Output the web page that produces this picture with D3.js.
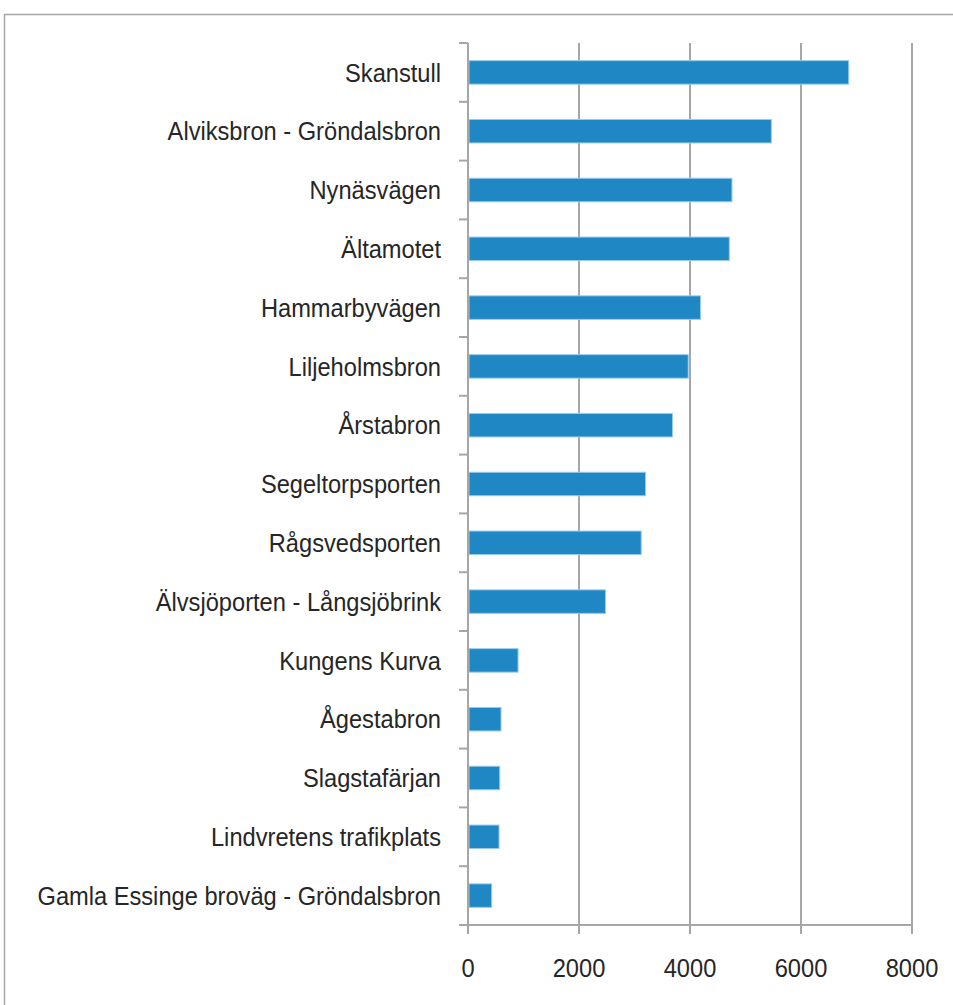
<!DOCTYPE html>
<meta charset="utf-8">
<script src="https://d3js.org/d3.v7.min.js"></script>
<style>
  body { margin: 0; background: #fff; }
  .lbl { font-family: "Liberation Sans", Arial, sans-serif; fill: #262626; }
</style>
<body>
<script>
// places and values
var places = ["Skanstull", "Alviksbron - Gröndalsbron", "Nynäsvägen", "Ältamotet",
  "Hammarbyvägen", "Liljeholmsbron", "Årstabron", "Segeltorpsporten", "Rågsvedsporten",
  "Älvsjöporten - Långsjöbrink", "Kungens Kurva", "Ågestabron", "Slagstafärjan",
  "Lindvretens trafikplats", "Gamla Essinge broväg - Gröndalsbron"];
var counts = [6860, 5466, 4756, 4708, 4190, 3968, 3685, 3198, 3121, 2477, 902, 595, 572, 559, 427];
var xTicks = [0, 2000, 4000, 6000, 8000];

var W = 953, H = 1005;
var mLeft = 468, mRight = 912, mTop = 43, mBottom = 925;
var squeeze = 0.91; // labels are a narrow face in the original

var svg = d3.select("body").append("svg")
  .attr("width", W).attr("height", H);

// chart frame (runs off right and bottom)
svg.append("rect")
  .attr("x", 4.5).attr("y", 14.5)
  .attr("width", W + 20).attr("height", H + 20)
  .attr("fill", "none").attr("stroke", "#a6a6a6").attr("stroke-width", 1.5);

var x = d3.scaleLinear().domain([0, 8000]).range([mLeft, mRight]);
var yb = d3.scaleBand().domain(places).range([mTop, mBottom]);
var y = d3.scaleBand().domain(places).range([mTop, mBottom]).paddingInner(0.6).paddingOuter(0.3);

// vertical gridlines
svg.append("g").selectAll("line")
  .data(xTicks.slice(1))
  .enter().append("line")
  .attr("x1", d => x(d)).attr("x2", d => x(d))
  .attr("y1", mTop).attr("y2", mBottom)
  .attr("stroke", "#a6a6a6").attr("stroke-width", 2);

// bars
svg.append("g").selectAll("rect")
  .data(places)
  .enter().append("rect")
  .attr("x", x(0) + 1)
  .attr("y", d => y(d))
  .attr("width", (d, i) => x(counts[i]) - x(0) - 1)
  .attr("height", y.bandwidth())
  .attr("fill", "#1f87c4")
  .attr("stroke", "#9ccbeb").attr("stroke-width", 1);

// left axis line and ticks
var ax = svg.append("g").attr("stroke", "#a6a6a6").attr("stroke-width", 2);
ax.append("line").attr("x1", x(0)).attr("x2", x(0)).attr("y1", mTop).attr("y2", mBottom + 9);
ax.selectAll(".yt")
  .data(places.concat(["end"]))
  .enter().append("line")
  .attr("x1", x(0) - 9).attr("x2", x(0))
  .attr("y1", (d, i) => mTop + i * yb.step())
  .attr("y2", (d, i) => mTop + i * yb.step());

// bottom axis line and ticks
ax.append("line").attr("x1", x(0) - 9).attr("x2", x(8000)).attr("y1", mBottom).attr("y2", mBottom);
ax.selectAll(".xt")
  .data(xTicks)
  .enter().append("line")
  .attr("x1", d => x(d)).attr("x2", d => x(d))
  .attr("y1", mBottom).attr("y2", mBottom + 9);

// category labels
svg.append("g").selectAll("text")
  .data(places)
  .enter().append("text")
  .attr("class", "lbl")
  .attr("transform", d => "translate(441," + (yb(d) + yb.bandwidth() / 2) + ") scale(" + squeeze + ",1)")
  .attr("dy", "0.35em")
  .attr("text-anchor", "end")
  .attr("font-size", 26)
  .text(d => d);

// tick labels
svg.append("g").selectAll("text")
  .data(xTicks)
  .enter().append("text")
  .attr("class", "lbl")
  .attr("transform", d => "translate(" + x(d) + ",977) scale(" + squeeze + ",1)")
  .attr("text-anchor", "middle")
  .attr("font-size", 26)
  .text(d => d);
</script>
</body>
